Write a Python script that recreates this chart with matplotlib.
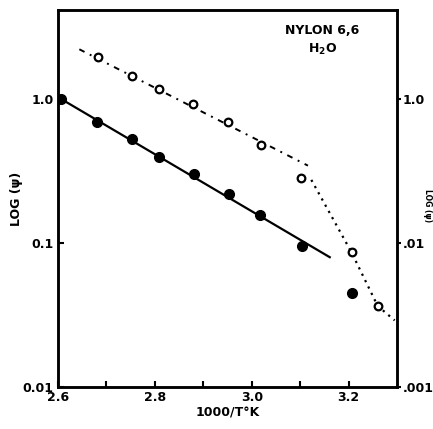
import matplotlib
matplotlib.use("Agg")
import matplotlib.pyplot as plt
import numpy as np

# filled points (solid line fit)
x_filled = [2.606, 2.680, 2.753, 2.809, 2.881, 2.952, 3.018, 3.103, 3.207]
y_filled = [1.00, 0.69, 0.525, 0.394, 0.303, 0.219, 0.156, 0.0953, 0.0447]
x_fit = [2.606, 3.161]
y_fit = [1.00, 0.0796]

# open points (dashed + dotted curves)
x_open = [2.682, 2.752, 2.809, 2.878, 2.950, 3.020, 3.102, 3.206, 3.260]
y_open = [1.94, 1.445, 1.167, 0.919, 0.692, 0.48, 0.281, 0.086, 0.0365]
x_dash = [2.644, 3.116]
y_dash = [2.21, 0.344]
x_dot = [3.123, 3.206, 3.260, 3.295]
y_dot = [0.274, 0.086, 0.0365, 0.029]

x_ticks = [2.6, 2.8, 3.0, 3.2]
x_ticklabels = ["2.6", "2.8", "3.0", "3.2"]
y_ticks = [1.0, 0.1, 0.01]
y_left_labels = ["1.0", "0.1", "0.01"]
y_right_labels = ["1.0", ".01", ".001"]

fig = plt.figure(figsize=(4.33, 4.29), dpi=100)
ax = fig.add_axes([0.134, 0.098, 0.783, 0.879])

ax.plot(x_fit, y_fit, color="black", lw=1.6)
ax.plot(x_filled, y_filled, "o", color="black", ms=7)
ax.plot(x_dash, y_dash, color="black", lw=1.4, linestyle=(0, (3, 3, 1, 3)))
ax.plot(x_dot, y_dot, color="black", lw=1.6, linestyle=(0, (1, 2.2)))
ax.plot(x_open, y_open, "o", color="black", mfc="white", ms=5.5, mew=1.6)

ax.set_yscale("log")
ax.set_xlim(2.6, 3.3)
ax.set_ylim(0.01, 4.15)

ax.set_xticks(x_ticks)
ax.set_xticklabels(x_ticklabels, fontsize=9, fontweight="bold")
ax.set_xticks([2.7, 2.9, 3.1], minor=True)
ax.set_yticks(y_ticks)
ax.set_yticklabels(y_left_labels, fontsize=9, fontweight="bold")
ax.yaxis.set_minor_locator(matplotlib.ticker.NullLocator())
ax.tick_params(which="both", direction="in", length=4, width=1.5, pad=3)

ax2 = ax.twinx()
ax2.set_yscale("log")
ax2.set_ylim(0.01, 4.15)
ax2.set_yticks(y_ticks)
ax2.set_yticklabels(y_right_labels, fontsize=9, fontweight="bold")
ax2.yaxis.set_minor_locator(matplotlib.ticker.NullLocator())
ax2.tick_params(direction="out", length=3, width=1.5, pad=1)

for a in (ax, ax2):
    for s in a.spines.values():
        s.set_linewidth(1.8)

ax.set_xlabel("1000/T°K", fontsize=9, fontweight="bold", labelpad=2)
ax.set_ylabel("LOG (ψ)", fontsize=9, fontweight="bold", labelpad=0)

ax.text(0.78, 0.935, "NYLON 6,6", transform=ax.transAxes, fontsize=9,
        fontweight="bold", ha="center")
ax.text(0.78, 0.885, "H$_\\mathbf{2}$O", transform=ax.transAxes, fontsize=9,
        fontweight="bold", ha="center")

# faint label at the right edge (cut off in the original scan)
fig.text(0.998, 0.52, "LOG (ψ)", rotation=270, fontsize=5.5, fontweight="bold",
         ha="right", va="center")

fig.savefig("out.png", dpi=100)
